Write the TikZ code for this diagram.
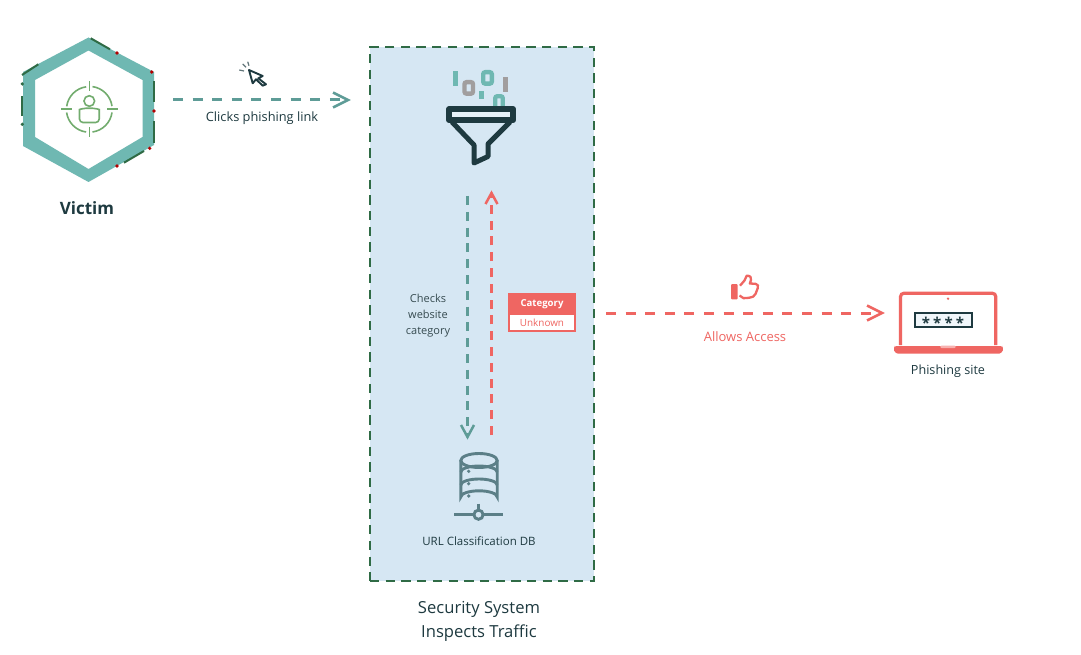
\documentclass[tikz,border=0pt]{standalone}
\usepackage{fontspec}
\setmainfont{Open Sans}
\usetikzlibrary{calc}
\definecolor{teal1}{HTML}{6FB8B2}
\definecolor{tealarrow}{HTML}{5E9C97}
\definecolor{navy}{HTML}{1E3A40}
\definecolor{boxfill}{HTML}{D6E7F3}
\definecolor{boxedge}{HTML}{2F6B45}
\definecolor{redc}{HTML}{EF6662}
\definecolor{iconG}{HTML}{72AC6E}
\definecolor{dbc}{HTML}{5B7F87}
\definecolor{grayb}{HTML}{A19E9E}
\tikzset{
  x=1pt,y=-1pt,
  lbl/.style={font=\fontsize{#1}{#1}\selectfont,inner sep=0pt,text=navy},
  lbl/.default=11,
  flow/.style={line width=3pt,dash pattern=on 10pt off 9.6pt},
  vflow/.style={line width=2.6pt,dash pattern=on 9pt off 6.8pt},
  chev/.style={line width=2.5pt,line join=miter},
  grn/.style={draw=boxedge,line width=2pt},
}
\begin{document}
\begin{tikzpicture}
\useasboundingbox (0,0) rectangle (1081,655);
\fill[white] (0,0) rectangle (1081,655);

% Victim hexagon
\fill[teal1,even odd rule] (88.5,37.5)--(154,72)--(154,145)--(88.5,182)--(23,146)--(23,72)--cycle
  (88.5,50.5)--(142.5,80)--(142.5,137)--(88.5,169)--(35,137)--(35,80)--cycle;
\draw[grn] (90.7,38.3)--(110,49.3);
\draw[grn] (22,75)--(38.3,64.3);
\draw[grn] (22.3,96)--(22.3,116);
\draw[grn] (154,81)--(154,101.7);
\draw[grn] (154,121)--(154,143);
\draw[grn] (144,151)--(124,162.7);
\fill[boxedge] (22.3,84) circle (1.8) (22.3,124.3) circle (1.8);
\foreach \p in {(117,53),(151.7,72),(154,111),(149.7,148.3),(117,166)}
  \fill[red!70!black] \p circle (1.8);
% Target icon
\begin{scope}[iconG,line width=1.6pt]
\draw (89.3,109.3) ++(-22.6,-3) arc[start angle=188,end angle=262,radius=22.9];
\draw (89.3,109.3) ++(3.2,-22.7) arc[start angle=278,end angle=352,radius=22.9];
\draw (89.3,109.3) ++(22.7,3.2) arc[start angle=8,end angle=82,radius=22.9];
\draw (89.3,109.3) ++(-3.2,22.7) arc[start angle=98,end angle=172,radius=22.9];
\draw (89.3,81.5)--(89.3,91) (89.3,127.5)--(89.3,137.5) (61,109.3)--(72,109.3) (107,109.3)--(118,109.3);
\draw (89.3,101) circle (5.3);
\draw[rounded corners=3.5pt] (79.5,122.5) -- (79.5,113) .. controls (79.5,109.5) and (83,108.3) .. (89.3,108.3) .. controls (95.6,108.3) and (99.2,109.5) .. (99.2,113) -- (99.2,122.5) -- cycle;
\end{scope}
\node[inner sep=0pt,text=navy,font=\fontsize{17}{17}\selectfont\bfseries] (victim) at (87,208.5) {Victim};

% Security box
\node[draw=boxedge,fill=boxfill,line width=2.4pt,dash pattern=on 9.3pt off 6.4pt,minimum width=224pt,minimum height=534pt,inner sep=0pt] (secbox) at (482,314) {};
\node[inner sep=0pt,text=navy,align=center,font=\fontsize{16.6}{24}\selectfont] (seclabel) at (479,621) {Security System\\Inspects Traffic};

% Funnel bits
\fill[teal1] (453,71) rectangle (458,86);
\draw[grayb,line width=4.4pt,rounded corners=2pt] (464.5,82.2) rectangle (473,93.6);
\draw[teal1,line width=4.4pt,rounded corners=2pt] (483.2,72.2) rectangle (491.8,83.6);
\fill[teal1] (479,91) rectangle (484,99);
\fill[grayb] (503,77) rectangle (508,92);
\draw[teal1,line width=4.2pt,rounded corners=2pt] (495.2,106) -- (495.2,96.2) -- (502.8,96.2) -- (502.8,106);
% Funnel
\draw[navy,line width=6.4pt,line join=round,fill=boxfill!60!white] (449.2,109.2) rectangle (513,120);
\draw[navy,line width=5pt,line join=round] (452,122) -- (474,145) -- (474,163) -- (488,156.5) -- (488,144) -- (510,122);

% Connectors' free ends
\coordinate (clickS) at (173,100);
\coordinate (clickE) at (348,100);
\coordinate (downS) at (467.5,196);
\coordinate (downE) at (467.5,437);
\coordinate (upS) at (491.5,435);
\coordinate (upE) at (491.5,193);
\coordinate (allowS) at (606,313);
\coordinate (allowE) at (882,313);

% Click arrow
\draw[tealarrow,flow] (clickS) -- ($(clickE)+(-2,0)$);
\draw[tealarrow,chev] ($(clickE)+(-15,-7.5)$) -- (clickE) -- ($(clickE)+(-15,7.5)$);
\node[lbl=12.8] (clicklbl) at (262,118.5) {Clicks phishing link};
% Cursor
\draw[navy,line width=1.9pt,line join=round,fill=white] (249,70)--(262.7,76)--(258.3,78.3)--(266,84.3)--(262.7,85.7)--(256,79.3)--(252.7,83.3)--cycle;
\draw[navy!70,line width=1.2pt] (247.7,61.7)--(249,65.7) (242.7,64)--(246,67.3) (239.3,70)--(244,71);

% Vertical arrows
\draw[tealarrow,vflow] (downS) -- ($(downE)+(0,-2)$);
\draw[tealarrow,chev] ($(downE)+(-6.5,-12)$) -- (downE) -- ($(downE)+(6.5,-12)$);
\draw[redc,vflow] (upS) -- ($(upE)+(0,2)$);
\draw[redc,chev] ($(upE)+(-6,11)$) -- (upE) -- ($(upE)+(6,11)$);

\node[inner sep=0pt,align=center,text=navy!75!gray,font=\fontsize{11}{16}\selectfont] (checks) at (428,316) {Checks\\website\\category};

% Category tag
\node[fill=redc,draw=redc,line width=1.2pt,minimum width=66pt,minimum height=20pt,inner sep=0pt,text=white,font=\fontsize{9.6}{9.6}\selectfont\bfseries] (cat) at (542,304) {Category};
\node[fill=white,draw=redc,line width=1.5pt,minimum width=66pt,minimum height=17pt,inner sep=0pt,text=redc,font=\fontsize{9.9}{9.9}\selectfont] (unk) at (542,322.5) {Unknown};

% Database
\begin{scope}[dbc,line width=2.9pt]
\draw (460.8,460.5) -- (460.8,497) arc[start angle=180,end angle=360,x radius=18.2,y radius=6.2] -- (497.2,460.5);
\draw (479,460.5) ellipse[x radius=18.2,y radius=7];
\draw (460.8,472) arc[start angle=180,end angle=360,x radius=18.2,y radius=6];
\draw (460.8,485) arc[start angle=180,end angle=360,x radius=18.2,y radius=6];
\fill (468.7,471.3) circle (1.8) (468.7,483.7) circle (1.8) (468.7,496) circle (1.8);
\draw (478.5,503.5)--(478.5,510);
\draw (454.3,514.7)--(473.6,514.7) (483.4,514.7)--(502.7,514.7);
\draw (478.5,514.7) circle (4.6);
\end{scope}
\node[lbl=11.5] (dblbl) at (479,541) {URL Classification DB};

% Allow arrow
\draw[redc,flow] (allowS) -- ($(allowE)+(-2,0)$);
\draw[redc,chev] ($(allowE)+(-15,-7.5)$) -- (allowE) -- ($(allowE)+(-15,7.5)$);
\node[lbl=13,text=redc] (allowlbl) at (745,337) {Allows Access};
% Thumb
\fill[redc,rounded corners=1pt] (731,284) rectangle (737.7,299.3);
\draw[redc,line width=2.3pt,line join=round] (740,285.7) -- (744.5,280.5) -- (746.7,275.7) .. controls (750,275.5) and (752,277.5) .. (751,280) -- (749.8,283.5) -- (755.5,283.8) .. controls (758,284) and (758.5,286) .. (757.8,288) -- (755.5,294) .. controls (754.5,296.5) and (752,297.5) .. (749,297.8) -- (743.5,298.2) -- (739.5,295.5);

% Laptop
\draw[redc,line width=3.2pt,rounded corners=3.5pt] (900.5,345) -- (900.5,293.2) -- (995.8,293.2) -- (995.8,345);
\fill[redc,rounded corners=2.5pt] (894,346) -- (1002.8,346) -- (1002.8,348) .. controls (1002.8,352) and (1000,353.5) .. (997,353.5) -- (900,353.5) .. controls (897,353.5) and (894,352) .. (894,348) -- cycle;
\fill[white!50!redc,rounded corners=1.5pt] (940,345.6) rectangle (956,348.2);
\fill[redc] (948,298.7) circle (1.3);
\node[draw=navy,line width=2pt,fill=boxfill!35!white,minimum width=57pt,minimum height=14.4pt,inner sep=0pt] (pw) at (943.3,320) {};
\foreach \x in {926,937.3,948.7,960}
  \node[inner sep=0pt,text=navy,font=\fontsize{15}{15}\selectfont\bfseries] at (\x,322.5) {*};
\node[lbl=12.6] (phlbl) at (948,371) {Phishing site};
\end{tikzpicture}
\end{document}
